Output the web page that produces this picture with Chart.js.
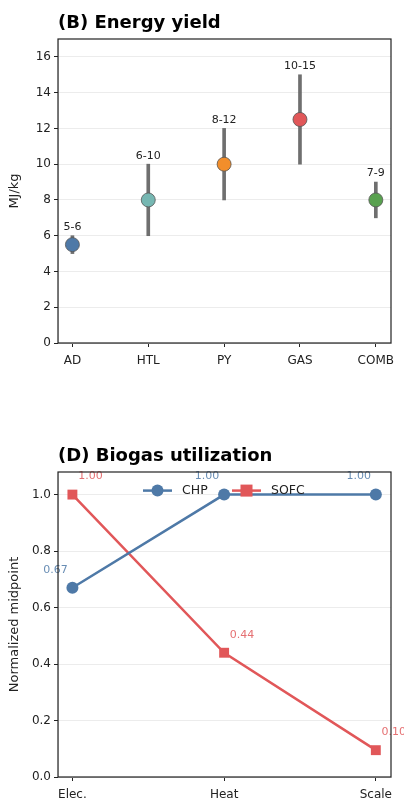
<!DOCTYPE html>
<html>
<head>
<meta charset="utf-8">
<script src="https://cdn.jsdelivr.net/npm/chart.js@4.4.1/dist/chart.umd.min.js"></script>
<style>
  body { margin: 0; background: #fff; }
  .box { position: relative; width: 404px; }
  canvas { display: block; }
</style>
</head>
<body>
<div class="box"><canvas id="yieldChart" width="404" height="400"></canvas></div>
<div class="box"><canvas id="biogasChart" width="404" height="402"></canvas></div>
<script>
// (B) 에너지 수율 데이터
const routes = ['AD', 'HTL', 'PY', 'GAS', 'COMB'];
const yieldMid = [5.5, 8, 10, 12.5, 8];
const yieldLow = [5, 6, 8, 10, 7];
const yieldHigh = [6, 10, 12, 15, 9];
const yieldLabels = ['5-6', '6-10', '8-12', '10-15', '7-9'];
const routeColors = ['#4e79a7', '#76b7b2', '#f28e2b', '#e15759', '#59a14f'];

// (D) 바이오가스 활용 데이터
const criteria = ['Elec.', 'Heat', 'Scale'];
const chpValues = [0.67, 1.00, 1.00];
const sofcValues = [1.00, 0.44, 0.095];
const sofcText = ['1.00', '0.44', '0.10'];

const FONT = 'DejaVu Sans';
Chart.defaults.font.family = FONT;
Chart.defaults.color = '#222';

// 왼쪽 정렬 제목 + 상자 테두리
const framePlugin = {
    id: 'frame',
    afterDraw(chart, args, opts) {
        const { ctx, chartArea: a } = chart;
        ctx.save();
        ctx.strokeStyle = '#222';
        ctx.lineWidth = 1.2;
        ctx.strokeRect(a.left, a.top, a.right - a.left, a.bottom - a.top);
        ctx.fillStyle = '#000';
        ctx.font = 'bold 18px ' + FONT;
        ctx.textBaseline = 'alphabetic';
        ctx.fillText(opts.text, a.left, a.top - 11);
        ctx.restore();
    }
};

function fixedWidth(w) {
    return function(scale) { scale.width = w; };
}
function fixedHeight(h) {
    return function(scale) { scale.height = h; };
}

// 에너지 수율 차트 (오차 막대 + 점)
const yieldLabelPlugin = {
    id: 'yieldLabels',
    afterDatasetsDraw(chart) {
        const { ctx, scales } = chart;
        ctx.save();
        ctx.font = '11px ' + FONT;
        ctx.fillStyle = '#222';
        ctx.textAlign = 'center';
        ctx.textBaseline = 'bottom';
        routes.forEach((r, i) => {
            const x = scales.x.getPixelForValue(i);
            const y = scales.y.getPixelForValue(yieldHigh[i]);
            ctx.fillText(yieldLabels[i], x, y - 3);
        });
        ctx.restore();
    }
};

new Chart(document.getElementById('yieldChart'), {
    data: {
        datasets: [{
            type: 'bar',
            data: routes.map((r, i) => ({ x: i, y: [yieldLow[i], yieldHigh[i]] })),
            backgroundColor: 'rgba(95, 95, 95, 0.9)',
            barThickness: 3,
            order: 2
        }, {
            type: 'scatter',
            data: routes.map((r, i) => ({ x: i, y: yieldMid[i] })),
            backgroundColor: routeColors,
            borderColor: '#555',
            borderWidth: 0.8,
            pointRadius: 7,
            order: 1
        }]
    },
    options: {
        responsive: false,
        animation: false,
        layout: { padding: { top: 39, right: 13, bottom: 27, left: 0 } },
        plugins: {
            legend: { display: false },
            tooltip: { enabled: false },
            frame: { text: '(B) Energy yield' }
        },
        scales: {
            x: {
                type: 'linear',
                offset: false,
                min: -0.19,
                max: 4.2,
                afterFit: fixedHeight(30),
                afterBuildTicks(scale) {
                    scale.ticks = routes.map((r, i) => ({ value: i }));
                },
                ticks: {
                    font: { size: 12 },
                    padding: 7,
                    callback: v => routes[v]
                },
                grid: { offset: false, drawOnChartArea: false, tickLength: 4, tickColor: '#222' }
            },
            y: {
                min: 0,
                max: 17,
                afterFit: fixedWidth(58),
                afterBuildTicks(scale) {
                    scale.ticks = [0, 2, 4, 6, 8, 10, 12, 14, 16].map(v => ({ value: v }));
                },
                ticks: { font: { size: 12 }, padding: 3 },
                title: { display: true, text: 'MJ/kg', font: { size: 13 }, padding: { top: 7, bottom: 0 } },
                grid: { color: '#ececec', tickColor: '#222', tickLength: 4 }
            }
        }
    },
    plugins: [framePlugin, yieldLabelPlugin]
});

// 바이오가스 활용 차트 (선 + 값 라벨 + 내부 범례)
const biogasPlugin = {
    id: 'biogasText',
    afterDatasetsDraw(chart) {
        const { ctx, scales, chartArea: a } = chart;
        ctx.save();
        ctx.font = '11px ' + FONT;
        ctx.textBaseline = 'middle';
        ctx.textAlign = 'center';
        criteria.forEach((c, i) => {
            const x = scales.x.getPixelForValue(i);
            ctx.fillStyle = 'rgba(78, 121, 167, 0.85)';
            ctx.fillText(chpValues[i].toFixed(2), x - 17, scales.y.getPixelForValue(chpValues[i]) - 18);
            ctx.fillStyle = 'rgba(225, 87, 89, 0.85)';
            ctx.fillText(sofcText[i], x + 18, scales.y.getPixelForValue(sofcValues[i]) - 18);
        });

        // 범례
        const ly = scales.y.getPixelForValue(1.0) - 4;
        const items = [
            { label: 'CHP', color: '#4e79a7', style: 'circle', x: a.left + 85 },
            { label: 'SOFC', color: '#e15759', style: 'rect', x: a.left + 174 }
        ];
        ctx.font = '12.5px ' + FONT;
        ctx.textAlign = 'left';
        items.forEach(it => {
            ctx.strokeStyle = it.color;
            ctx.fillStyle = it.color;
            ctx.lineWidth = 2.5;
            ctx.beginPath();
            ctx.moveTo(it.x, ly);
            ctx.lineTo(it.x + 29, ly);
            ctx.stroke();
            if (it.style === 'circle') {
                ctx.beginPath();
                ctx.arc(it.x + 14.5, ly, 6, 0, Math.PI * 2);
                ctx.fill();
            } else {
                ctx.fillRect(it.x + 8.5, ly - 6, 12, 12);
            }
            ctx.fillStyle = '#222';
            ctx.fillText(it.label, it.x + 39, ly);
        });
        ctx.restore();
    }
};

new Chart(document.getElementById('biogasChart'), {
    type: 'line',
    data: {
        datasets: [{
            label: 'CHP',
            data: criteria.map((c, i) => ({ x: i, y: chpValues[i] })),
            borderColor: '#4e79a7',
            backgroundColor: '#4e79a7',
            borderWidth: 2.5,
            pointStyle: 'circle',
            pointRadius: 6,
            pointBorderWidth: 0,
            clip: false
        }, {
            label: 'SOFC',
            data: criteria.map((c, i) => ({ x: i, y: sofcValues[i] })),
            borderColor: '#e15759',
            backgroundColor: '#e15759',
            borderWidth: 2.5,
            pointStyle: 'rect',
            pointRadius: 7,
            pointBorderWidth: 0,
            clip: false
        }]
    },
    options: {
        responsive: false,
        animation: false,
        layout: { padding: { top: 72, right: 13, bottom: 0, left: 0 } },
        plugins: {
            legend: { display: false },
            tooltip: { enabled: false },
            frame: { text: '(D) Biogas utilization' }
        },
        scales: {
            x: {
                type: 'linear',
                min: -0.095,
                max: 2.1,
                afterFit: fixedHeight(25),
                afterBuildTicks(scale) {
                    scale.ticks = criteria.map((c, i) => ({ value: i }));
                },
                ticks: {
                    font: { size: 12 },
                    padding: 7,
                    callback: v => criteria[v]
                },
                grid: { drawOnChartArea: false, tickLength: 4, tickColor: '#222' }
            },
            y: {
                min: 0,
                max: 1.08,
                afterFit: fixedWidth(58),
                afterBuildTicks(scale) {
                    scale.ticks = [0, 0.2, 0.4, 0.6, 0.8, 1.0].map(v => ({ value: v }));
                },
                ticks: { font: { size: 12 }, padding: 3, callback: v => v.toFixed(1) },
                title: { display: true, text: 'Normalized midpoint', font: { size: 13 }, padding: { top: 7, bottom: 0 } },
                grid: { color: '#ececec', tickColor: '#222', tickLength: 4 }
            }
        }
    },
    plugins: [framePlugin, biogasPlugin]
});
</script>
</body>
</html>
